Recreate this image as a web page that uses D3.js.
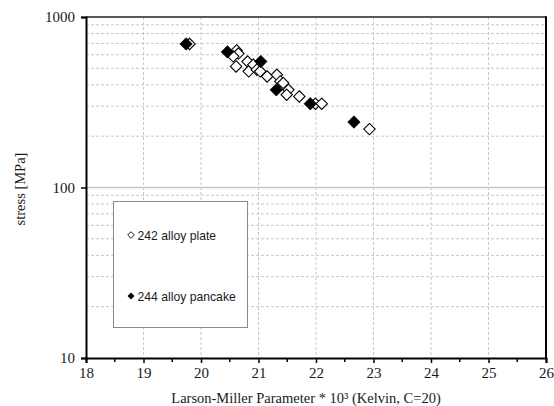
<!DOCTYPE html>
<html><head><meta charset="utf-8">
<script src="https://cdn.jsdelivr.net/npm/d3@7"></script>
<style>body{margin:0;background:#fff}svg{display:block}</style>
</head><body>
<svg id="c" width="554" height="406"></svg>
<script>
// Data (Larson-Miller parameter x10^3, stress MPa)
const plate242X = [19.80, 20.62, 20.65, 20.56, 20.61, 20.81, 20.83, 20.91, 20.97, 21.03, 21.15, 21.32, 21.38, 21.43, 21.52, 21.49, 21.71, 21.99, 22.10, 22.93];
const plate242Y = [695, 637, 610, 588, 513, 548, 480, 525, 491, 480, 448, 458, 419, 410, 374, 350, 342, 310, 310, 220];
const pancake244X = [19.74, 20.46, 21.04, 21.31, 21.90, 22.66];
const pancake244Y = [695, 624, 548, 374, 310, 242];
const xTicks = [18, 19, 20, 21, 22, 23, 24, 25, 26];
const yTicks = [10, 100, 1000];
const legendLabels = ["242 alloy plate", "244 alloy pancake"];
const xTitle = "Larson-Miller Parameter * 10³ (Kelvin, C=20)";
const yTitle = "stress [MPa]";

const svg = d3.select("#c");
const L = 86, R = 546, T = 17, B = 358;
const x = d3.scaleLinear().domain([18, 26]).range([L, R]);
const y = d3.scaleLog().domain([10, 1000]).range([B, T]);
const serif = "Liberation Serif, Times New Roman, serif";

// minor y gridlines
const minorY = [];
[10, 100].forEach(d => { for (let k = 2; k <= 9; k++) minorY.push(d * k); });
svg.append("g").selectAll("line").data(minorY).join("line")
  .attr("x1", L).attr("x2", R).attr("y1", d => y(d)).attr("y2", d => y(d))
  .attr("stroke", "#c8c8c8").attr("stroke-width", 1).attr("stroke-dasharray", "3,2");
// vertical gridlines
svg.append("g").selectAll("line").data(xTicks.slice(1, -1)).join("line")
  .attr("x1", d => x(d)).attr("x2", d => x(d)).attr("y1", T).attr("y2", B)
  .attr("stroke", "#c8c8c8").attr("stroke-width", 1).attr("stroke-dasharray", "3,2");
// major gridline at 100
svg.append("line").attr("x1", L).attr("x2", R).attr("y1", y(100)).attr("y2", y(100))
  .attr("stroke", "#c8c8c8").attr("stroke-width", 1.5);

// top border
svg.append("line").attr("x1", L).attr("x2", R).attr("y1", T).attr("y2", T)
  .attr("stroke", "#222").attr("stroke-width", 1.5);
// right border
svg.append("line").attr("x1", R).attr("x2", R).attr("y1", T - 0.75).attr("y2", B + 1)
  .attr("stroke", "#000").attr("stroke-width", 2);

// legend box
svg.append("rect").attr("x", 113.5).attr("y", 201.5).attr("width", 134).attr("height", 126)
  .attr("fill", "#fff").attr("stroke", "#8a8a8a").attr("stroke-width", 1);

// axes
const xAxis = d3.axisBottom(x).tickValues(xTicks).tickFormat(d3.format("d")).tickSize(5).tickPadding(4);
const gx = svg.append("g").attr("transform", `translate(0,${B})`).call(xAxis);
gx.select(".domain").attr("stroke", "#000").attr("stroke-width", 2);
gx.selectAll(".tick line").attr("stroke", "#000").attr("stroke-width", 1.5);
gx.selectAll("text").attr("font-family", serif).attr("font-size", 15).attr("fill", "#1a1a1a");
// minor x ticks
const minorX = xTicks.slice(0, -1).map(d => d + 0.5);
svg.append("g").selectAll("line").data(minorX).join("line")
  .attr("x1", d => x(d)).attr("x2", d => x(d)).attr("y1", B).attr("y2", B + 4)
  .attr("stroke", "#000").attr("stroke-width", 1.5);

const yAxis = d3.axisLeft(y).tickValues(yTicks).tickFormat(d3.format("d")).tickSize(5).tickPadding(6);
const gy = svg.append("g").attr("transform", `translate(${L},0)`).call(yAxis);
gy.select(".domain").attr("stroke", "#000").attr("stroke-width", 2);
gy.selectAll(".tick line").attr("stroke", "#000").attr("stroke-width", 1.5);
gy.selectAll("text").attr("font-family", serif).attr("font-size", 15).attr("fill", "#1a1a1a");

// titles
svg.append("text").attr("x", 306).attr("y", 403).attr("text-anchor", "middle")
  .attr("font-family", serif).attr("font-size", 14.5).attr("fill", "#1a1a1a")
  .text(xTitle);
svg.append("text").attr("transform", "translate(25,189) rotate(-90)").attr("text-anchor", "middle")
  .attr("font-family", serif).attr("font-size", 14.5).attr("fill", "#1a1a1a")
  .text(yTitle);

// markers
function diamond(r) { return `M0,${-r}L${r},0L0,${r}L${-r},0Z`; }
const plate = plate242X.map((v, i) => ({ x: v, y: plate242Y[i] }));
const pancake = pancake244X.map((v, i) => ({ x: v, y: pancake244Y[i] }));
svg.append("g").selectAll("path").data(plate).join("path")
  .attr("transform", d => `translate(${x(d.x)},${y(d.y)})`)
  .attr("d", diamond(5.7)).attr("fill", "#fff").attr("stroke", "#000").attr("stroke-width", 1.1);
svg.append("g").selectAll("path").data(pancake).join("path")
  .attr("transform", d => `translate(${x(d.x)},${y(d.y)})`)
  .attr("d", diamond(6.2)).attr("fill", "#000").attr("stroke", "#000").attr("stroke-width", 0.8);

// legend entries
const lg = svg.append("g");
const lgY = [235, 296];
lg.append("path").attr("transform", `translate(131,${lgY[0]})`).attr("d", diamond(3.3))
  .attr("fill", "#fff").attr("stroke", "#000").attr("stroke-width", 0.9);
lg.append("path").attr("transform", `translate(131,${lgY[1]})`).attr("d", diamond(3.5))
  .attr("fill", "#000");
legendLabels.forEach((t, i) => {
  lg.append("text").attr("x", 137.5).attr("y", lgY[i] + 4.5).attr("font-family", "Liberation Sans, Arial, sans-serif")
    .attr("font-size", 12.2).attr("fill", "#1a1a1a").text(t);
});
</script>
</body></html>
